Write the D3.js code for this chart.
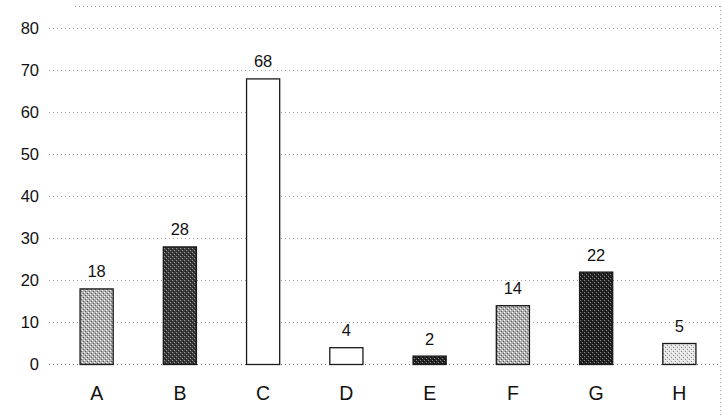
<!DOCTYPE html>
<html>
<head>
<meta charset="utf-8">
<script src="https://cdn.jsdelivr.net/npm/d3@7/dist/d3.min.js"></script>
<style>
  html, body { margin: 0; padding: 0; background: #fff; }
  svg { display: block; font-family: "Liberation Sans", Arial, sans-serif; }
</style>
</head>
<body>
<svg id="chart" width="722" height="416"></svg>
<script>
const categories = ["A", "B", "C", "D", "E", "F", "G", "H"];
const values = [18, 28, 68, 4, 2, 14, 22, 5];
const yTicks = [0, 10, 20, 30, 40, 50, 60, 70, 80];
const fills = ["lightStipple", "darkStipple", "white", "white", "blackStipple", "lightStipple", "blackStipple", "paleStipple"];

(function () {
const svg = d3.select("#chart");
const plotLeft = 55, plotRight = 721, plotTop = 6;

const x = d3.scaleBand().domain(categories).range([plotLeft, plotRight]).paddingInner(0.59).paddingOuter(0.295);
const y = d3.scaleLinear().domain([0, 80]).range([364, 28]);

// stipple patterns
const defs = svg.append("defs");
function stipple(id, bg, dot, dot2) {
  const p = defs.append("pattern").attr("id", id).attr("patternUnits", "userSpaceOnUse")
    .attr("width", 4).attr("height", 4);
  p.append("rect").attr("width", 4).attr("height", 4).attr("fill", bg);
  p.append("rect").attr("x", 0).attr("y", 0).attr("width", 1).attr("height", 1).attr("fill", dot);
  p.append("rect").attr("x", 2).attr("y", 2).attr("width", 1).attr("height", 1).attr("fill", dot);
  p.append("rect").attr("x", 3).attr("y", 1).attr("width", 1).attr("height", 1).attr("fill", dot2);
  p.append("rect").attr("x", 1).attr("y", 3).attr("width", 1).attr("height", 1).attr("fill", dot2);
}
stipple("lightStipple", "#b0b0b0", "#ffffff", "#5a5a5a");
stipple("darkStipple", "#3c3c3c", "#9a9a9a", "#111111");
stipple("blackStipple", "#262626", "#8a8a8a", "#000000");
stipple("paleStipple", "#e4e4e4", "#ffffff", "#8a8a8a");

// gridlines
svg.append("g").selectAll("line").data(yTicks).join("line")
  .attr("x1", plotLeft - 6).attr("x2", plotRight)
  .attr("y1", d => Math.round(y(d)) + 0.5).attr("y2", d => Math.round(y(d)) + 0.5)
  .attr("stroke", d => d === 0 ? "#777" : "#a0a0a0").attr("stroke-width", 1)
  .attr("stroke-dasharray", "1,3");

// frame top & right dotted
svg.append("line").attr("x1", 75).attr("x2", plotRight).attr("y1", plotTop + 0.5).attr("y2", plotTop + 0.5)
  .attr("stroke", "#a0a0a0").attr("stroke-dasharray", "1,3");
svg.append("line").attr("x1", plotRight - 0.5).attr("x2", plotRight - 0.5).attr("y1", plotTop).attr("y2", 416)
  .attr("stroke", "#a0a0a0").attr("stroke-dasharray", "1,3");

// y axis tick labels
const yAxis = d3.axisLeft(y).tickValues(yTicks).tickSize(0).tickPadding(0);
const gy = svg.append("g").attr("transform", "translate(39,0)").call(yAxis);
gy.select(".domain").remove();
gy.selectAll("text").attr("font-size", 16.5).attr("fill", "#111")
  .attr("font-family", "'Liberation Sans', Arial, sans-serif");

// bars
svg.append("g").selectAll("rect").data(values).join("rect")
  .attr("x", (d, i) => x(categories[i]) + 0.5)
  .attr("y", d => y(d) + 0.5)
  .attr("width", x.bandwidth() - 1)
  .attr("height", d => y(0) - y(d))
  .attr("fill", (d, i) => fills[i] === "white" ? "#fff" : `url(#${fills[i]})`)
  .attr("stroke", "#1a1a1a").attr("stroke-width", 1.3);

// value labels
svg.append("g").selectAll("text").data(values).join("text")
  .attr("x", (d, i) => x(categories[i]) + x.bandwidth() / 2)
  .attr("y", d => y(d) - 11)
  .attr("text-anchor", "middle")
  .attr("font-size", 16.5).attr("fill", "#111")
  .text(d => d);

// x axis category labels
const xAxis = d3.axisBottom(x).tickSize(0).tickPadding(0);
const gx = svg.append("g").attr("transform", "translate(0,386)").call(xAxis);
gx.select(".domain").remove();
gx.selectAll("text").attr("font-size", 19.5).attr("fill", "#111")
  .attr("font-family", "'Liberation Sans', Arial, sans-serif");
})();
</script>
</body>
</html>
